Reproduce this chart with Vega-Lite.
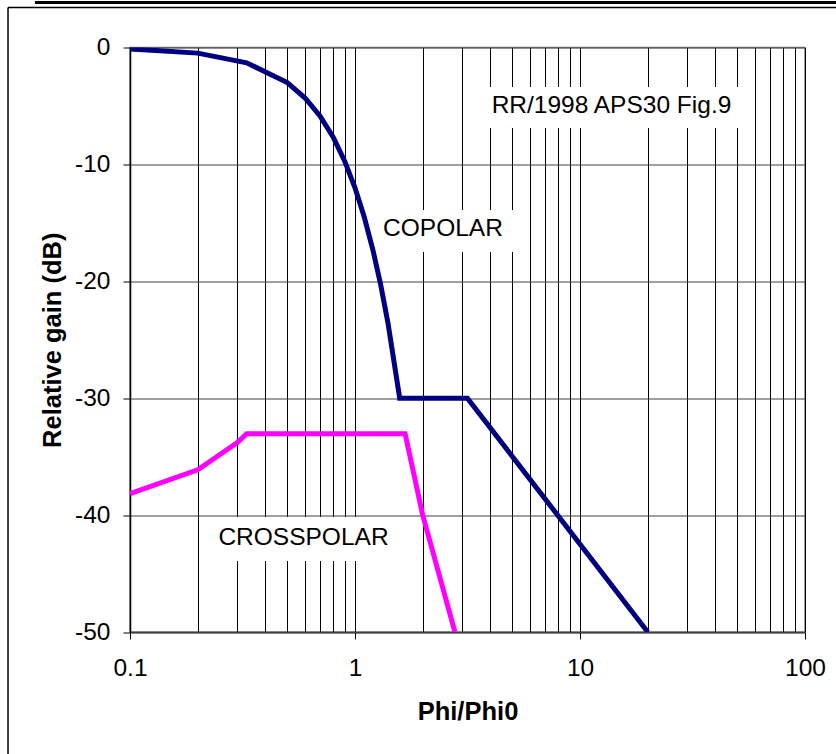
{
  "$schema": "https://vega.github.io/schema/vega-lite/v6.json",
  "width": 675,
  "height": 584.5,
  "autosize": "none",
  "padding": {"left": 130, "top": 47.5, "right": 31, "bottom": 122},
  "background": "white",
  "config": {
    "font": "Liberation Sans",
    "view": {"stroke": "#808080", "strokeWidth": 1.5}
  },
  "datasets": {
    "curves": [
      {"series": "COPOLAR", "phi": 0.1, "gain": -0.12},
      {"series": "COPOLAR", "phi": 0.2, "gain": -0.48},
      {"series": "COPOLAR", "phi": 0.33, "gain": -1.31},
      {"series": "COPOLAR", "phi": 0.5, "gain": -3.0},
      {"series": "COPOLAR", "phi": 0.6, "gain": -4.32},
      {"series": "COPOLAR", "phi": 0.7, "gain": -5.88},
      {"series": "COPOLAR", "phi": 0.8, "gain": -7.68},
      {"series": "COPOLAR", "phi": 0.9, "gain": -9.72},
      {"series": "COPOLAR", "phi": 1.0, "gain": -12.0},
      {"series": "COPOLAR", "phi": 1.1, "gain": -14.52},
      {"series": "COPOLAR", "phi": 1.2, "gain": -17.28},
      {"series": "COPOLAR", "phi": 1.3, "gain": -20.28},
      {"series": "COPOLAR", "phi": 1.4, "gain": -23.52},
      {"series": "COPOLAR", "phi": 1.58, "gain": -30.0},
      {"series": "COPOLAR", "phi": 3.16, "gain": -30.0},
      {"series": "COPOLAR", "phi": 20, "gain": -50.0},
      {"series": "CROSSPOLAR", "phi": 0.1, "gain": -38.17},
      {"series": "CROSSPOLAR", "phi": 0.2, "gain": -36.12},
      {"series": "CROSSPOLAR", "phi": 0.3, "gain": -33.8},
      {"series": "CROSSPOLAR", "phi": 0.33, "gain": -33.04},
      {"series": "CROSSPOLAR", "phi": 1.67, "gain": -33.04},
      {"series": "CROSSPOLAR", "phi": 2.0, "gain": -40.0},
      {"series": "CROSSPOLAR", "phi": 2.78, "gain": -50.0}
    ],
    "labels": [
      {"label": "RR/1998 APS30 Fig.9", "phi": 13.8, "gain": -5.6},
      {"label": "COPOLAR", "phi": 2.461, "gain": -16.1},
      {"label": "CROSSPOLAR", "phi": 0.5903, "gain": -42.56}
    ],
    "boxes": [
      {"label": "RR/1998 APS30 Fig.9", "phi": 3.244, "phi2": 56.96, "gain": -3.38, "gain2": -6.89},
      {"label": "COPOLAR", "phi": 1.265, "phi2": 5.41, "gain": -13.9, "gain2": -17.49},
      {"label": "CROSSPOLAR", "phi": 0.2222, "phi2": 1.668, "gain": -40.16, "gain2": -43.93}
    ]
  },
  "layer": [
    {
      "data": {"name": "boxes"},
      "mark": {"type": "rect", "fill": "white"},
      "encoding": {
        "x": {
          "field": "phi", "type": "quantitative",
          "scale": {"type": "log", "domain": [0.1, 100], "nice": false},
          "axis": {
            "title": "Phi/Phi0",
            "values": [0.1, 0.2, 0.3, 0.4, 0.5, 0.6, 0.7, 0.8, 0.9, 1, 2, 3, 4, 5, 6, 7, 8, 9, 10, 20, 30, 40, 50, 60, 70, 80, 90, 100],
            "format": "~g",
            "labelExpr": "(datum.value == 0.1 || datum.value == 1 || datum.value == 10 || datum.value == 100) ? datum.label : ''",
            "labelOverlap": false,
            "labelFlush": false,
            "labelFontSize": 24.5,
            "labelColor": "black",
            "labelPadding": 17,
            "tickSize": 7,
            "tickColor": "black",
            "tickOpacity": {"condition": {"test": "datum.value == 0.1 || datum.value == 1 || datum.value == 10 || datum.value == 100", "value": 1}, "value": 0},
            "domainColor": "#404040",
            "domainWidth": 1.5,
            "grid": true,
            "gridColor": "black",
            "gridWidth": 1,
            "gridOpacity": 1,
            "titleFontSize": 25.5,
            "titleFontWeight": "bold",
            "titleColor": "black",
            "titlePadding": 20
          }
        },
        "x2": {"field": "phi2"},
        "y": {
          "field": "gain", "type": "quantitative",
          "scale": {"domain": [-50, 0], "nice": false},
          "axis": {
            "title": "Relative gain (dB)",
            "values": [-50, -40, -30, -20, -10, 0],
            "labelExpr": "'' + datum.value",
            "labelFontSize": 24.5,
            "labelColor": "black",
            "labelPadding": 13,
            "tickSize": 7,
            "tickColor": "black",
            "domainColor": "black",
            "domainWidth": 1.5,
            "grid": true,
            "gridColor": "#404040",
            "gridWidth": 1,
            "gridOpacity": 1,
            "titleFontSize": 25.5,
            "titleFontWeight": "bold",
            "titleColor": "black",
            "titlePadding": 9
          }
        },
        "y2": {"field": "gain2"}
      }
    },
    {
      "data": {"name": "curves"},
      "mark": {"type": "line", "strokeWidth": 5, "clip": true},
      "encoding": {
        "x": {"field": "phi", "type": "quantitative"},
        "y": {"field": "gain", "type": "quantitative"},
        "color": {
          "field": "series", "type": "nominal",
          "scale": {"domain": ["COPOLAR", "CROSSPOLAR"], "range": ["#000080", "#FF00FF"]},
          "legend": null
        }
      }
    },
    {
      "data": {"name": "labels"},
      "mark": {"type": "text", "fontSize": 24.5, "align": "center", "baseline": "alphabetic", "color": "black"},
      "encoding": {
        "x": {"field": "phi", "type": "quantitative"},
        "y": {"field": "gain", "type": "quantitative"},
        "text": {"field": "label"}
      }
    },
    {
      "data": {"values": [{}]},
      "mark": {"type": "rule", "color": "black", "strokeWidth": 1.5},
      "encoding": {
        "x": {"datum": 0.0287, "type": "quantitative"},
        "y": {"datum": 3.42, "type": "quantitative"},
        "y2": {"datum": -70}
      }
    },
    {
      "data": {"values": [{}]},
      "mark": {"type": "rule", "color": "black", "strokeWidth": 1.5},
      "encoding": {
        "x": {"datum": 0.0287, "type": "quantitative"},
        "x2": {"datum": 500},
        "y": {"datum": 3.42, "type": "quantitative"}
      }
    },
    {
      "data": {"values": [{}]},
      "mark": {"type": "rule", "color": "black", "strokeWidth": 3},
      "encoding": {
        "x": {"datum": 0.03781, "type": "quantitative"},
        "x2": {"datum": 500},
        "y": {"datum": 3.85, "type": "quantitative"}
      }
    }
  ]
}
